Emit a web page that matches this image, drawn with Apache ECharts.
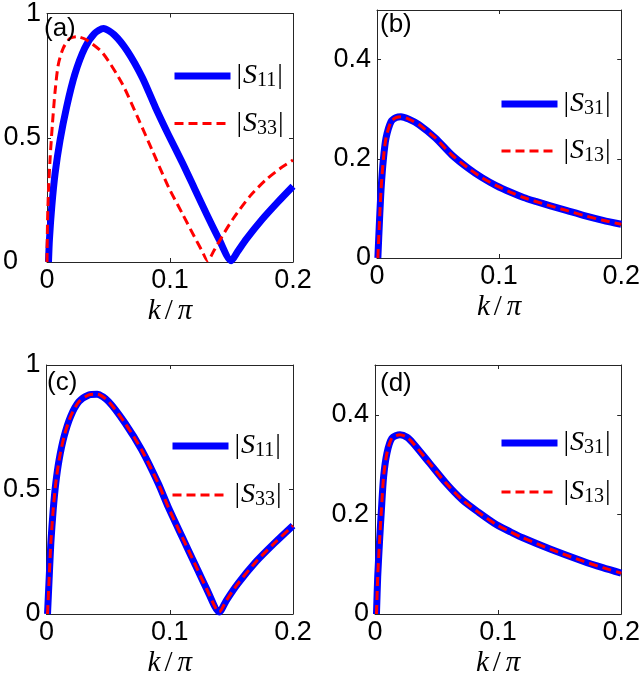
<!DOCTYPE html>
<html><head><meta charset="utf-8">
<script src="https://cdn.jsdelivr.net/npm/echarts@6/dist/echarts.min.js"></script>
<style>html,body{margin:0;padding:0;background:#fff}#c{width:643px;height:682px}</style>
</head><body><div id="c"></div>
<script>
// ---- data (k/pi, value) ----
const xTicks = [0, 0.1, 0.2];
// Panel (a)
const kA11 = [0.0012,0.002,0.0039,0.0066,0.0106,0.0159,0.0226,0.0307,0.0387,0.0459,0.0547,0.0654,0.0775,0.0881,0.0989,0.11,0.12,0.13,0.14,0.1497,0.155,0.162,0.175,0.188,0.2];
const vA11 = [0,0.093,0.225,0.358,0.49,0.623,0.755,0.861,0.92,0.94,0.914,0.848,0.742,0.623,0.51,0.40,0.295,0.19,0.09,0.005,0.042,0.092,0.172,0.243,0.305];
const kA33 = [0,0.0004,0.0012,0.0026,0.0044,0.0066,0.0092,0.0132,0.0186,0.024,0.032,0.0453,0.0614,0.0748,0.0855,0.0989,0.11,0.12,0.126,0.1305,0.136,0.142,0.151,0.165,0.178,0.19,0.2];
const vA33 = [0,0.159,0.29,0.424,0.556,0.689,0.795,0.861,0.90,0.907,0.894,0.841,0.715,0.57,0.45,0.30,0.195,0.10,0.045,0.005,0.048,0.10,0.172,0.265,0.331,0.378,0.41];
// Panel (b)
const kB31 = [0.0007,0.002,0.0034,0.0053,0.0074,0.0115,0.0155,0.0196,0.026,0.0343,0.0478,0.0612,0.0747,0.086,0.0976,0.11,0.12,0.13,0.142,0.155,0.169,0.185,0.2];
const vB31 = [0,0.073,0.141,0.201,0.242,0.275,0.283,0.285,0.28,0.269,0.242,0.208,0.181,0.162,0.146,0.132,0.122,0.114,0.105,0.096,0.086,0.076,0.068];
const kB13 = [0.0007,0.002,0.0034,0.0053,0.0074,0.0115,0.0155,0.0196,0.026,0.0343,0.0478,0.0612,0.0747,0.086,0.0976,0.11,0.12,0.13,0.142,0.155,0.169,0.185,0.2];
const vB13 = [0,0.073,0.141,0.201,0.242,0.275,0.283,0.285,0.28,0.269,0.242,0.208,0.181,0.162,0.146,0.132,0.122,0.114,0.105,0.096,0.086,0.076,0.068];
// Panel (c)
const kC11 = [0.0008,0.0022,0.0035,0.0054,0.0075,0.0102,0.0142,0.0195,0.0263,0.0343,0.041,0.0504,0.0638,0.0772,0.0906,0.0987,0.11,0.12,0.13,0.1402,0.146,0.155,0.17,0.185,0.2];
const vC11 = [0,0.151,0.285,0.418,0.525,0.619,0.712,0.793,0.853,0.88,0.883,0.853,0.766,0.659,0.525,0.43,0.31,0.205,0.10,0.008,0.055,0.12,0.21,0.285,0.355];
const kC33 = [0.0008,0.0022,0.0035,0.0054,0.0075,0.0102,0.0142,0.0195,0.0263,0.0343,0.041,0.0504,0.0638,0.0772,0.0906,0.0987,0.11,0.12,0.13,0.1402,0.146,0.155,0.17,0.185,0.2];
const vC33 = [0,0.151,0.285,0.418,0.525,0.619,0.712,0.793,0.853,0.88,0.883,0.853,0.766,0.659,0.525,0.43,0.31,0.205,0.10,0.008,0.055,0.12,0.21,0.285,0.355];
// Panel (d)
const kD31 = [0.0012,0.0022,0.0036,0.0052,0.007,0.0097,0.0137,0.0203,0.026,0.031,0.0443,0.0576,0.0709,0.0842,0.0988,0.11,0.12,0.1427,0.169,0.185,0.2];
const vD31 = [0,0.075,0.142,0.209,0.276,0.323,0.353,0.36,0.355,0.343,0.303,0.263,0.229,0.204,0.179,0.165,0.153,0.130,0.106,0.093,0.082];
const kD13 = [0.0012,0.0022,0.0036,0.0052,0.007,0.0097,0.0137,0.0203,0.026,0.031,0.0443,0.0576,0.0709,0.0842,0.0988,0.11,0.12,0.1427,0.169,0.185,0.2];
const vD13 = [0,0.075,0.142,0.209,0.276,0.323,0.353,0.36,0.355,0.343,0.303,0.263,0.229,0.204,0.179,0.165,0.153,0.130,0.106,0.093,0.082];

const panelLabels = ['(a)','(b)','(c)','(d)'];
const names = {S11:'|S11|', S33:'|S33|', S31:'|S31|', S13:'|S13|'};

const zip = (k,v) => k.map((x,i)=>[x,v[i]]);
const AX = '#262626';
const SANS = 'Liberation Sans';
const SERIF = 'Liberation Serif';

const grids = [
  {left:43, top:10, width:250, height:252},
  {left:377, top:10, width:248, height:248},
  {left:44, top:365, width:249, height:249},
  {left:375, top:365, width:250, height:249}
];
const yMax = [1,0.5,1,0.5];
const yInt = [0.5,0.2,0.5,0.2];

const xAxes = [], yAxes = [];
grids.forEach((g,i)=>{
  xAxes.push({
    type:'value', gridIndex:i, min:0, max:0.2, interval:0.1, position:'bottom',
    axisLine:{show:true,onZero:false,lineStyle:{color:AX,width:1}},
    axisTick:{show:true,inside:true,length:4,lineStyle:{color:AX}},
    axisLabel:{fontSize:27,color:'#000',fontFamily:SANS,margin:5},
    splitLine:{show:false},
    name:'{i|k}{u|/}{i|π}', nameLocation:'middle', nameGap:35,
    nameTextStyle:{color:'#000',rich:{
      i:{fontFamily:SERIF,fontStyle:'italic',fontSize:29,color:'#000'},
      u:{fontFamily:SERIF,fontSize:29,color:'#000',padding:[0,5,0,4]}
    }}
  });
  xAxes.push({
    type:'value', gridIndex:i, min:0, max:0.2, interval:0.1, position:'top',
    axisLine:{show:true,onZero:false,lineStyle:{color:AX,width:1}},
    axisTick:{show:true,inside:true,length:4,lineStyle:{color:AX}},
    axisLabel:{show:false}, splitLine:{show:false}
  });
  yAxes.push({
    type:'value', gridIndex:i, min:0, max:yMax[i], interval:yInt[i], position:'left',
    axisLine:{show:true,onZero:false,lineStyle:{color:AX,width:1}},
    axisTick:{show:true,inside:true,length:4,lineStyle:{color:AX}},
    axisLabel:{fontSize:27,color:'#000',fontFamily:SANS,margin:6,showMaxLabel: yMax[i]===1,
      formatter: (v)=> (i===0 && v===0) ? '{z|0}' : String(+v.toFixed(2)),
      rich:{z:{fontSize:27,color:'#000',fontFamily:SANS,padding:[0,23,0,0]}}},
    splitLine:{show:false}
  });
  yAxes.push({
    type:'value', gridIndex:i, min:0, max:yMax[i], interval:yInt[i], position:'right',
    axisLine:{show:true,onZero:false,lineStyle:{color:AX,width:1}},
    axisTick:{show:true,inside:true,length:4,lineStyle:{color:AX}},
    axisLabel:{show:false}, splitLine:{show:false}
  });
});

function solid(name, gi, data){
  return {type:'line', name, xAxisIndex:gi*2, yAxisIndex:gi*2, data, symbol:'none', smooth:0.25,
    lineStyle:{color:'#0000ff', width:7, join:'round', cap:'butt'}, itemStyle:{color:'#0000ff'}, z:2};
}
function dashed(name, gi, data){
  return {type:'line', name, xAxisIndex:gi*2, yAxisIndex:gi*2, data, symbol:'none', smooth:0.25,
    lineStyle:{color:'#ff0000', width:3, type:[9,5], join:'round'}, itemStyle:{color:'#ff0000'}, z:3};
}

const series = [
  solid(names.S11,0,zip(kA11,vA11)), dashed(names.S33,0,zip(kA33,vA33)),
  solid(names.S31,1,zip(kB31,vB31)), dashed(names.S13,1,zip(kB13,vB13)),
  solid(names.S11,2,zip(kC11,vC11)), dashed(names.S33,2,zip(kC33,vC33)),
  solid(names.S31,3,zip(kD31,vD31)), dashed(names.S13,3,zip(kD13,vD13))
];

const richLeg = {
  b:{fontFamily:SERIF,fontSize:28,color:'#000',lineHeight:30,padding:[0,1,0,1]},
  s:{fontFamily:SERIF,fontStyle:'italic',fontSize:28,color:'#000',lineHeight:30},
  sub:{fontFamily:SERIF,fontSize:20,color:'#000',lineHeight:30,verticalAlign:'bottom'}
};
const legFmt = (n)=>{ const d = n.replace(/[|S]/g,''); return '{b||}{s|S}{sub|'+d+'}{b||}'; };
const hideSym = {color:'rgba(0,0,0,0)', borderWidth:0, opacity:0};
function legend(pos, a, b, gap){
  return {orient:'vertical', left:pos[0], top:pos[1], padding:0, itemGap:gap, itemWidth:56, itemHeight:14,
    selectedMode:false, formatter:legFmt, textStyle:{rich:richLeg, fontSize:28, lineHeight:30},
    data:[{name:a, lineStyle:{width:7}, itemStyle:hideSym}, {name:b, lineStyle:{width:3}, itemStyle:hideSym}]};
}
const legends = [
  legend([171,61], names.S11, names.S33, 17.6),
  legend([498,89], names.S31, names.S13, 17),
  legend([169,431], names.S11, names.S33, 19),
  legend([498,428], names.S31, names.S13, 19)
];

const labPos = [[44,16],[380,12],[47,370],[380,371]];
const graphics = panelLabels.map((t,i)=>({type:'text', left:labPos[i][0], top:labPos[i][1],
  style:{text:t, font:'26px "Liberation Sans"', fill:'#000'}, z:100}));

const chart = echarts.init(document.getElementById('c'), null, {renderer:'canvas'});
chart.setOption({
  animation:false, backgroundColor:'#fff',
  grid: grids, xAxis: xAxes, yAxis: yAxes, series, legend: legends, graphic: graphics
});
</script></body></html>
